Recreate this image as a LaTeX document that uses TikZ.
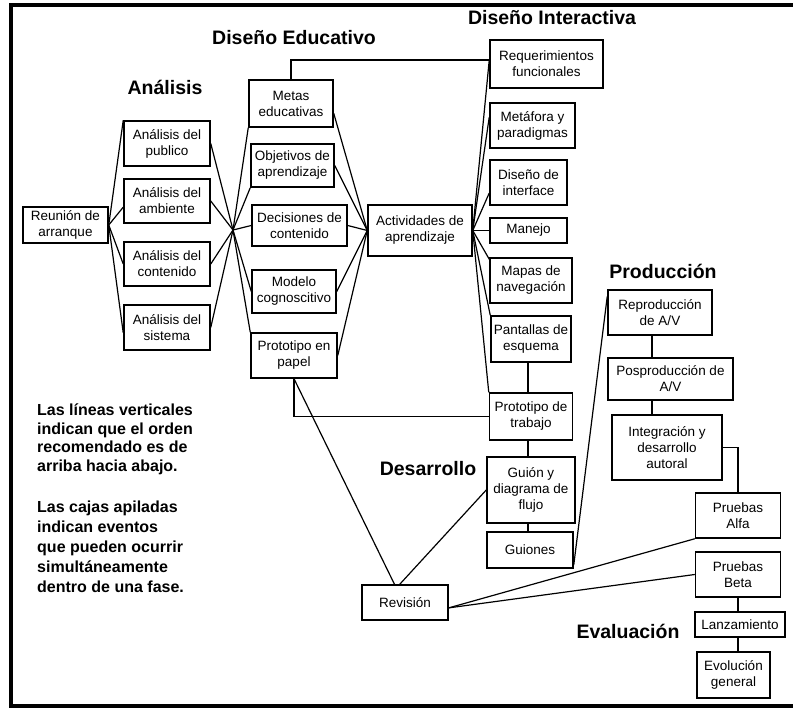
\documentclass[tikz,border=0pt]{standalone}
\usepackage{fontspec}
\setmainfont{Liberation Sans}

\begin{document}
\begin{tikzpicture}[x=1pt,y=-1pt]
    \tikzstyle{box}=[draw,line width=1.5pt,inner sep=1pt,align=center,font=\fontsize{13.5}{16}\selectfont]
    \tikzstyle{phase}=[font=\fontsize{19.5}{22}\selectfont\bfseries,anchor=base,inner sep=0pt]
    \tikzstyle{note}=[font=\fontsize{16}{19}\selectfont\bfseries,anchor=base west,inner sep=0pt]
    \tikzstyle{link}=[line width=1.2pt]
    \tikzstyle{frame}=[line width=4.5pt]

    \useasboundingbox (0,0) rectangle (793,709);
    \draw[frame] (793,5) -| (11,706) -- (793,706);

    % Phase titles
    \node[phase] (tEdu) at (294,45) {Diseño Educativo};
    \node[phase] (tAna) at (165,95) {Análisis};
    \node[phase] (tInt) at (552,25) {Diseño Interactiva};
    \node[phase] (tPro) at (663,278) {Producción};
    \node[phase] (tDes) at (428,475) {Desarrollo};
    \node[phase] (tEva) at (628,638) {Evaluación};

    % Draw the boxes of every phase
    \node[box, minimum width=85pt, minimum height=36pt] (reunion) at (65.5,225) {Reunión de\\arranque};
    \foreach \name/\py/\h/\txt in {pub/143.5/45/Análisis del\\publico, amb/201/44/Análisis del\\ambiente,
            cont/264/44/Análisis del\\contenido, sist/327.5/45/Análisis del\\sistema}
        \node[box, minimum width=86pt, minimum height=\h pt] (\name) at (167,\py) {\txt};
    \foreach \name/\px/\py/\w/\h/\txt in {metas/291/103.5/84/47/Metas\\educativas,
            objet/292.5/165.5/83/43/Objetivos de\\aprendizaje, decis/299.5/225.5/95/41/Decisiones de\\contenido,
            modelo/294/291.5/84/43/Modelo\\cognoscitivo, protpap/294/355.5/86/45/Prototipo en\\papel}
        \node[box, minimum width=\w pt, minimum height=\h pt] (\name) at (\px,\py) {\txt};
    \node[box, minimum width=104pt, minimum height=51pt] (activ) at (420,230.5) {Actividades de\\aprendizaje};
    \foreach \name/\px/\py/\w/\h/\txt in {req/546.5/64/113/48/Requerimientos\\funcionales,
            metaf/532.5/125.5/85/45/Metáfora y\\paradigmas, disint/528.5/182.5/77/45/Diseño de\\interface,
            manejo/528.5/230.5/77/25/Manejo, mapas/531/280.5/82/45/Mapas de\\navegación,
            pant/531/339/80/46/Pantallas de\\esquema, prottrab/531/416.5/83/47/Prototipo de\\trabajo,
            guion/531/490/88/66/Guión y\\diagrama de\\flujo, guiones/530/550/86/36/Guiones}
        \node[box, minimum width=\w pt, minimum height=\h pt] (\name) at (\px,\py) {\txt};
    \node[box, minimum width=86pt, minimum height=35pt] (revision) at (405,602.5) {Revisión};
    \foreach \name/\px/\py/\w/\h/\txt in {reprod/660/312.5/104/45/{Reproducción\\de A/V},
            pospro/670.5/379/125/42/{Posproducción de\\A/V}, integ/667/447.5/110/65/Integración y\\desarrollo\\autoral}
        \node[box, minimum width=\w pt, minimum height=\h pt] (\name) at (\px,\py) {\txt};
    \foreach \name/\px/\py/\w/\h/\txt in {alfa/738/515.5/85/45/Pruebas\\Alfa, beta/738/574.5/85/45/Pruebas\\Beta,
            lanz/740/624.5/90/25/Lanzamiento, evol/733.5/675/73/46/Evolución\\general}
        \node[box, minimum width=\w pt, minimum height=\h pt] (\name) at (\px,\py) {\txt};

    % Notes on the left
    \foreach \txt [count=\i] in {Las líneas verticales, indican que el orden, recomendado es de, arriba hacia abajo.}
        \node[note] (nA-\i) at (37,397+18.5*\i) {\txt};
    \foreach \txt [count=\i] in {Las cajas apiladas, indican eventos, que pueden ocurrir, simultáneamente, dentro de una fase.}
        \node[note] (nB-\i) at (37,492+20*\i) {\txt};

    % Fan out from the kick-off meeting
    \foreach \dest/\anc in {pub/north west, amb/-172, cont/west, sist/-173}
        \draw[link] (reunion.east) -- (\dest.\anc);

    % Analysis to educational design
    \coordinate (hubA) at (233,230);
    \foreach \source in {pub,amb,cont,sist}
        \draw[link] (\source.east) -- (hubA);
    \foreach \dest/\anc in {metas/south west, objet/south west, decis/west, modelo/west, protpap/north west}
        \draw[link] (hubA) -- (\dest.\anc);
    \foreach \source/\anc in {metas/-13, objet/east, decis/east, modelo/east, protpap/east}
        \draw[link] (\source.\anc) -- (activ.west);

    % Learning activities to interactive design
    \foreach \dest/\anc in {req/176, metaf/169, disint/195, manejo/west, mapas/153, pant/north west, prottrab/north west}
        \draw[link] (activ.east) -- (\dest.\anc);
    \draw[link] (metas.north) |- (req.176);
    \draw[link] (protpap.south) |- (prottrab.west);

    % Vertical order inside the columns
    \coordinate (colD) at (528,0);
    \coordinate (colP) at (652,0);
    \coordinate (colE) at (738,0);
    \foreach \a/\b in {pant/prottrab, prottrab/guion, guion/guiones}
        \draw[link] (\a.south -| colD) -- (\b.north -| colD);
    \foreach \a/\b in {reprod/pospro, pospro/integ}
        \draw[link] (\a.south -| colP) -- (\b.north -| colP);
    \foreach \a/\b in {beta/lanz, lanz/evol}
        \draw[link] (\a.south -| colE) -- (\b.north -| colE);

    % Review and the rest
    \draw[link] (protpap.south) -- (revision.120);
    \draw[link] (guion.west) -- (revision.106);
    \draw[link] (revision.-7) -- (alfa.south west);
    \draw[link] (revision.-7) -- (beta.west);
    \draw[link] (guiones.-19) -- (reprod.163);
    \draw[link] (integ.east) -| (alfa.north);
\end{tikzpicture}
\end{document}
